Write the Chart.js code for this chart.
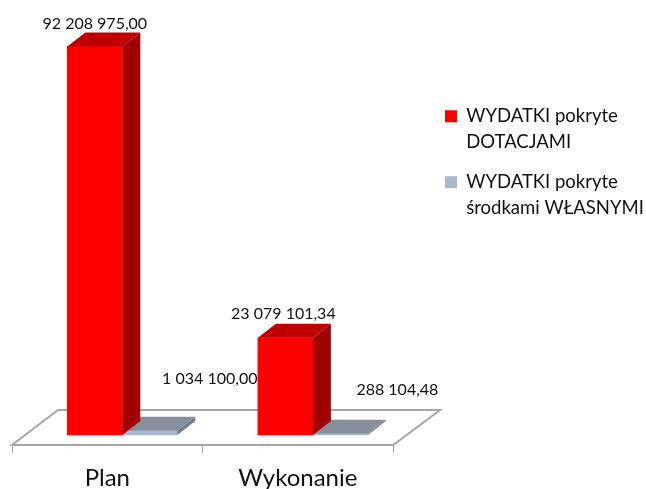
<!DOCTYPE html>
<html>
<head>
<meta charset="utf-8">
<style>
  html, body { margin: 0; padding: 0; background: #fff; }
</style>
<script src="https://cdn.jsdelivr.net/npm/chart.js@4"></script>
</head>
<body>
<canvas id="myChart" width="646" height="489"></canvas>
<script>
const categories = ["Plan", "Wykonanie"];
const dotacje = [92208975.0, 23079101.34];
const wlasne = [1034100.0, 288104.48];
const seriesNames = [
  ["WYDATKI pokryte", "DOTACJAMI"],
  ["WYDATKI pokryte", "środkami WŁASNYMI"],
];

const fontName = "Lato, Carlito, sans-serif";
const shiftX = 15; // bars stand further back on the floor than the axis ticks
const depthX = 18;
const depthY = 14;
const faces = [
  { top: "#c00000", side: "#a00000" },
  { top: "#85909c", side: "#6f7a88" },
];
// label position relative to the bar's top centre, one pair per dataset
const labelOffsets = [
  [[0, -23], [-2, -24]],
  [[60, -52], [57, -44]],
];

function formatValue(v) {
  const parts = v.toFixed(2).split(".");
  return parts[0].replace(/\B(?=(\d{3})+$)/g, " ") + "," + parts[1];
}

const bars3d = {
  id: "bars3d",
  afterLayout(chart) {
    // legend sits apart from the plot, further right and higher than the layout puts it
    chart.legend.left = 431;
    chart.legend.right = 646;
    chart.legend.top = 93;
  },
  beforeDatasetsDraw(chart) {
    const { ctx, chartArea } = chart;
    ctx.save();
    ctx.beginPath();
    ctx.moveTo(chartArea.left, chartArea.bottom);
    ctx.lineTo(chartArea.right, chartArea.bottom);
    ctx.lineTo(chartArea.right + 47, chartArea.bottom - 35);
    ctx.lineTo(chartArea.left + 46, chartArea.bottom - 35);
    ctx.closePath();
    ctx.fillStyle = "#ffffff";
    ctx.fill();
    ctx.strokeStyle = "#a6a6a6";
    ctx.lineWidth = 2;
    ctx.stroke();
    ctx.restore();
  },
  beforeDatasetDraw(chart) {
    chart.ctx.save();
    chart.ctx.translate(shiftX, 0);
  },
  afterDatasetDraw(chart, args) {
    const ctx = chart.ctx;
    args.meta.data.forEach((bar) => {
      const p = bar.getProps(["x", "y", "base", "width"], true);
      const l = p.x - p.width / 2;
      const r = p.x + p.width / 2;
      const face = faces[args.index];
      ctx.fillStyle = face.side;
      ctx.beginPath();
      ctx.moveTo(r, p.y);
      ctx.lineTo(r + depthX, p.y - depthY);
      ctx.lineTo(r + depthX, p.base - depthY);
      ctx.lineTo(r, p.base);
      ctx.closePath();
      ctx.fill();
      ctx.fillStyle = face.top;
      ctx.beginPath();
      ctx.moveTo(l, p.y);
      ctx.lineTo(r, p.y);
      ctx.lineTo(r + depthX, p.y - depthY);
      ctx.lineTo(l + depthX, p.y - depthY);
      ctx.closePath();
      ctx.fill();
    });
    ctx.restore();
  },
  afterDatasetsDraw(chart) {
    const ctx = chart.ctx;
    ctx.save();
    ctx.font = "16px " + fontName;
    ctx.fillStyle = "#111";
    ctx.textAlign = "center";
    ctx.textBaseline = "middle";
    chart.data.datasets.forEach((ds, i) => {
      chart.getDatasetMeta(i).data.forEach((bar, j) => {
        const off = labelOffsets[i][j];
        ctx.fillText(formatValue(ds.data[j]), bar.x + shiftX + off[0], bar.y + off[1]);
      });
    });
    ctx.restore();
  },
};

new Chart(document.querySelector("#myChart"), {
  type: "bar",
  data: {
    labels: categories,
    datasets: [
      { label: seriesNames[0], data: dotacje, backgroundColor: "#ff0000", clip: false },
      { label: seriesNames[1], data: wlasne, backgroundColor: "#aab8cc", clip: false },
    ],
  },
  options: {
    responsive: false,
    animation: false,
    barThickness: 55,
    layout: { padding: { left: 12, top: 33, right: 30, bottom: 0 } },
    scales: {
      x: {
        border: { display: false },
        grid: {
          drawOnChartArea: false,
          tickLength: 8,
          tickColor: "#a6a6a6",
          offset: true,
        },
        ticks: {
          color: "#111",
          padding: 11,
          maxRotation: 0,
          font: { family: fontName, size: 24 },
        },
        afterFit(scale) {
          scale.height = 44;
        },
      },
      y: {
        display: false,
        min: -2373000,
        max: 95400000,
      },
    },
    plugins: {
      tooltip: { enabled: false },
      legend: {
        position: "right",
        align: "start",
        labels: {
          boxWidth: 12,
          boxHeight: 12,
          padding: 14,
          color: "#111",
          font: { family: fontName, size: 18.5, lineHeight: 1.405 },
        },
      },
    },
  },
  plugins: [bars3d],
});
</script>
</body>
</html>
